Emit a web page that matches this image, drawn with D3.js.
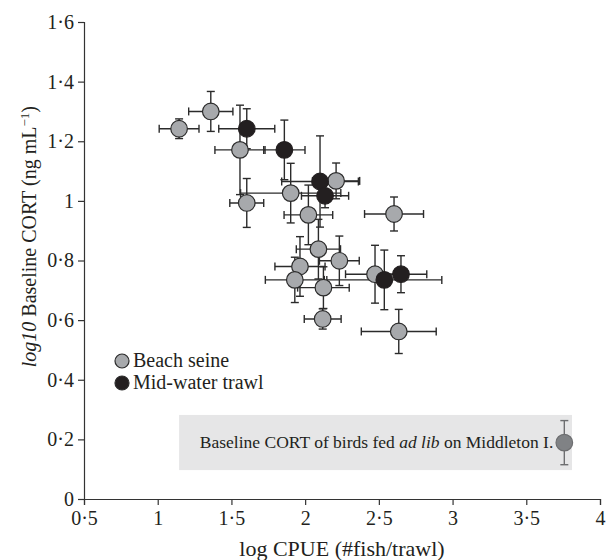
<!DOCTYPE html>
<html>
<head>
<meta charset="utf-8">
<script src="https://cdn.jsdelivr.net/npm/d3@7"></script>
<style>
  body { margin: 0; background: #fff; }
  svg text { font-family: "Liberation Serif", "DejaVu Serif", serif; fill: #231f20; }
</style>
</head>
<body>
<div id="chart"></div>
<script>
// Datos (log CPUE, log10 CORT, errores)
const beachSeine = [
  {x: 1.145, y: 1.242, xe: 0.135, ye: 0.033},
  {x: 1.36,  y: 1.30,  xe: 0.15,  ye: 0.067},
  {x: 1.558, y: 1.171, xe: 0.17,  ye: 0.15},
  {x: 1.604, y: 0.993, xe: 0.115, ye: 0.082},
  {x: 1.902, y: 1.026, xe: 0.34,  ye: 0.1},
  {x: 2.21,  y: 1.067, xe: 0.16,  ye: 0.06},
  {x: 2.022, y: 0.953, xe: 0.165, ye: 0.1},
  {x: 2.603, y: 0.956, xe: 0.2,   ye: 0.057},
  {x: 2.09,  y: 0.838, xe: 0.15,  ye: 0.1},
  {x: 2.232, y: 0.799, xe: 0.135, ye: 0.083},
  {x: 1.965, y: 0.78,  xe: 0.17,  ye: 0.1},
  {x: 1.93,  y: 0.735, xe: 0.2,   ye: 0.076},
  {x: 2.124, y: 0.709, xe: 0.175, ye: 0.07},
  {x: 2.474, y: 0.754, xe: 0.2,   ye: 0.097},
  {x: 2.119, y: 0.604, xe: 0.125, ye: 0.034},
  {x: 2.635, y: 0.562, xe: 0.254, ye: 0.074}
];
const midWater = [
  {x: 1.604, y: 1.242, xe: 0.19,  ye: 0.067},
  {x: 1.859, y: 1.171, xe: 0.14,  ye: 0.1},
  {x: 2.101, y: 1.065, xe: 0.26,  ye: 0.153},
  {x: 2.135, y: 1.017, xe: 0.16,  ye: 0.04},
  {x: 2.537, y: 0.735, xe: 0.39,  ye: 0.1},
  {x: 2.65,  y: 0.754, xe: 0.175, ye: 0.062}
];
// punto de referencia (Middleton I.), solo error vertical
const middleton = [{x: 3.758, y: 0.189, xe: 0, ye: 0.074}];
const refBox = {x0: 1.145, x1: 3.81, y0: 0.097, y1: 0.282};

const xTicks = [0.5, 1, 1.5, 2, 2.5, 3, 3.5, 4];
const yTicks = [0, 0.2, 0.4, 0.6, 0.8, 1, 1.2, 1.4, 1.6];
const fmt = d => String(d).replace(".", "\u00b7");

const W = 606, H = 560;
const margin = {top: 22, right: 6, bottom: 61, left: 84};

const svg = d3.select("#chart").append("svg")
  .attr("width", W).attr("height", H);

const x = d3.scaleLinear().domain([0.5, 4]).range([margin.left, W - margin.right]);
const y = d3.scaleLinear().domain([0, 1.6]).range([H - margin.bottom, margin.top]);

// caja gris de referencia
svg.append("rect")
  .attr("x", x(refBox.x0)).attr("y", y(refBox.y1))
  .attr("width", x(refBox.x1) - x(refBox.x0))
  .attr("height", y(refBox.y0) - y(refBox.y1))
  .attr("fill", "#e6e6e7");

const refText = svg.append("text")
  .attr("x", x(3.758) - 11).attr("y", y(refBox.y0) - 22)
  .attr("text-anchor", "end")
  .style("font-size", "17.5px");
refText.append("tspan").text("Baseline CORT of birds fed ");
refText.append("tspan").style("font-style", "italic").text("ad lib");
refText.append("tspan").text(" on Middleton I.");

// ejes
const xAxis = svg.append("g")
  .attr("transform", `translate(0,${H - margin.bottom})`)
  .call(d3.axisBottom(x).tickValues(xTicks).tickFormat(fmt).tickSizeOuter(0).tickSize(6).tickPadding(6));
const yAxis = svg.append("g")
  .attr("transform", `translate(${margin.left},0)`)
  .call(d3.axisLeft(y).tickValues(yTicks).tickFormat(fmt).tickSizeOuter(0).tickSize(6).tickPadding(4));
[xAxis, yAxis].forEach(a => {
  a.select(".domain").attr("stroke", "#333").attr("stroke-width", 1.2);
  a.selectAll(".tick line").attr("stroke", "#333").attr("stroke-width", 1.2);
  a.selectAll(".tick text")
    .style("font-family", "Liberation Serif, serif")
    .style("font-size", "20px").attr("fill", "#231f20");
});

// titulos de los ejes
svg.append("text")
  .attr("x", (x(0.5) + x(4)) / 2).attr("y", 556)
  .attr("text-anchor", "middle")
  .style("font-size", "22px")
  .text("log CPUE (#fish/trawl)");

const yLab = svg.append("text")
  .attr("transform", `translate(36,${y(0.88)}) rotate(-90)`)
  .attr("text-anchor", "middle")
  .style("font-size", "20px");
yLab.append("tspan").style("font-style", "italic").text("log10");
yLab.append("tspan").text(" Baseline CORT (ng mL");
yLab.append("tspan").attr("dy", -7).style("font-size", "13px").text("\u22121");
yLab.append("tspan").attr("dy", 7).text(")");

// barras de error
const cap = 4;
function errorBars(data, color) {
  const g = svg.append("g").attr("stroke", color).attr("stroke-width", 1.4).attr("fill", "none");
  data.forEach(d => {
    if (d.xe > 0) {
      g.append("line").attr("x1", x(d.x - d.xe)).attr("x2", x(d.x + d.xe)).attr("y1", y(d.y)).attr("y2", y(d.y));
      [d.x - d.xe, d.x + d.xe].forEach(v =>
        g.append("line").attr("x1", x(v)).attr("x2", x(v)).attr("y1", y(d.y) - cap).attr("y2", y(d.y) + cap));
    }
    g.append("line").attr("x1", x(d.x)).attr("x2", x(d.x)).attr("y1", y(d.y - d.ye)).attr("y2", y(d.y + d.ye));
    [d.y - d.ye, d.y + d.ye].forEach(v =>
      g.append("line").attr("x1", x(d.x) - cap).attr("x2", x(d.x) + cap).attr("y1", y(v)).attr("y2", y(v)));
  });
}
errorBars(beachSeine, "#2b2b2b");
errorBars(midWater, "#2b2b2b");
errorBars(middleton, "#6d6e70");

function dots(data, fill, stroke) {
  svg.append("g").selectAll("circle")
    .data(data).join("circle")
    .attr("cx", d => x(d.x)).attr("cy", d => y(d.y))
    .attr("r", 8.3)
    .attr("fill", fill).attr("stroke", stroke).attr("stroke-width", 1.2);
}
dots(beachSeine, "#a7a9ac", "#2b2b2b");
dots(midWater, "#231f20", "#231f20");
dots(middleton, "#808285", "#6d6e70");

// leyenda
const legend = [
  {label: "Beach seine", fill: "#a7a9ac"},
  {label: "Mid-water trawl", fill: "#231f20"}
];
const lg = svg.append("g").attr("transform", "translate(122,361)");
legend.forEach((l, i) => {
  lg.append("circle").attr("cx", 0).attr("cy", i * 22).attr("r", 7)
    .attr("fill", l.fill).attr("stroke", "#2b2b2b").attr("stroke-width", 1.2);
  lg.append("text").attr("x", 11).attr("y", i * 22 + 6)
    .style("font-size", "20px").text(l.label);
});
</script>
</body>
</html>
